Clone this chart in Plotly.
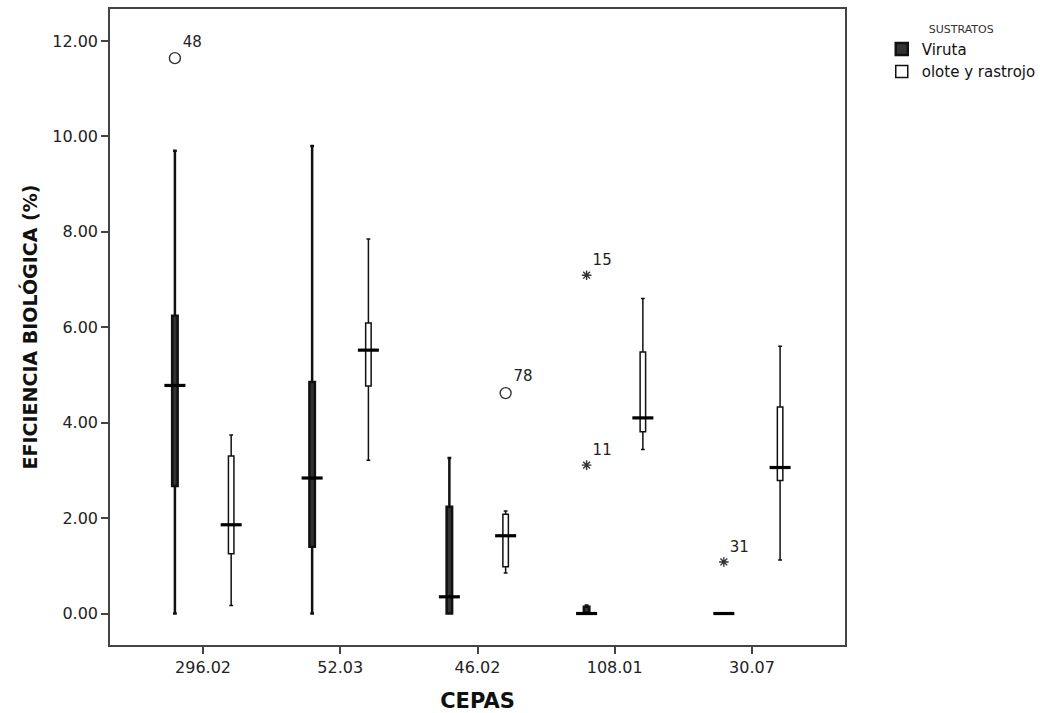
import plotly.graph_objects as go

# ---- data ----
cepas = ["296.02", "52.03", "46.02", "108.01", "30.07"]
sustratos = ["Viruta", "olote y rastrojo"]

viruta_lowerfence = [0.00, 0.00, 0.00, 0.00, 0.00]
viruta_q1 = [2.67, 1.40, 0.00, 0.00, 0.00]
viruta_median = [4.78, 2.84, 0.35, 0.00, 0.00]
viruta_q3 = [6.24, 4.85, 2.24, 0.14, 0.00]
viruta_upperfence = [9.70, 9.80, 3.26, 0.17, 0.00]

olote_lowerfence = [0.17, 3.21, 0.85, 3.44, 1.12]
olote_q1 = [1.25, 4.77, 0.98, 3.81, 2.79]
olote_median = [1.86, 5.52, 1.63, 4.10, 3.06]
olote_q3 = [3.30, 6.09, 2.08, 5.48, 4.33]
olote_upperfence = [3.74, 7.85, 2.15, 6.60, 5.60]

# outliers: cepa, sustrato, value, case label, kind
out_cepa = ["296.02", "46.02", "108.01", "108.01", "30.07"]
out_sustrato = ["Viruta", "olote y rastrojo", "Viruta", "Viruta", "Viruta"]
out_value = [11.64, 4.62, 7.09, 3.11, 1.08]
out_label = ["48", "78", "15", "11", "31"]
out_kind = ["circle", "circle", "star", "star", "star"]

# ---- layout helpers ----
offset = {"Viruta": -0.205, "olote y rastrojo": 0.205}
cidx = {c: i for i, c in enumerate(cepas)}
FONT = "DejaVu Sans"

def xpos(s):
    return [i + offset[s] for i in range(len(cepas))]

fig = go.Figure()

series = [
    ("Viruta", viruta_lowerfence, viruta_q1, viruta_median, viruta_q3, viruta_upperfence, "#333333", 2.5),
    ("olote y rastrojo", olote_lowerfence, olote_q1, olote_median, olote_q3, olote_upperfence, "#ffffff", 1.5),
]
for name, lf, q1, med, q3, uf, fill, lw in series:
    fig.add_trace(go.Box(
        name=name, x=xpos(name), q1=q1, median=med, q3=q3,
        lowerfence=lf, upperfence=uf, width=0.04,
        fillcolor=fill, line=dict(color="#111111", width=lw),
        whiskerwidth=0.7, boxpoints=False, showlegend=True,
    ))
for name, lf, q1, med, q3, uf, fill, lw in series:
    fig.add_trace(go.Scatter(
        x=xpos(name), y=med, mode="markers", showlegend=False, hoverinfo="skip",
        marker=dict(symbol="line-ew", size=15, color="#000000",
                    line=dict(color="#000000", width=3.2)),
    ))

ox = [cidx[c] + offset[s] for c, s in zip(out_cepa, out_sustrato)]
for kind, sym, size in [("circle", "circle-open", 11), ("star", "asterisk-open", 8)]:
    sel = [k for k, t in enumerate(out_kind) if t == kind]
    fig.add_trace(go.Scatter(
        x=[ox[k] for k in sel], y=[out_value[k] for k in sel],
        text=[out_label[k] for k in sel], mode="markers+text",
        textposition="top right", showlegend=False,
        textfont=dict(family=FONT, size=15, color="#222222"),
        marker=dict(symbol=sym, size=size, color="#333333",
                    line=dict(color="#333333", width=1.4)),
    ))

fig.update_layout(
    width=1063, height=713,
    margin=dict(l=110, r=218, t=9, b=68, autoexpand=False),
    paper_bgcolor="white", plot_bgcolor="white",
    font=dict(family=FONT, color="#222222"),
    showlegend=True,
    legend=dict(
        x=1.05, y=0.985, xanchor="left", yanchor="top",
        title=dict(text="SUSTRATOS", side="top center",
                   font=dict(family=FONT, size=11, color="#333333")),
        font=dict(family=FONT, size=15, color="#111111"),
        tracegroupgap=0, itemwidth=30, bgcolor="rgba(0,0,0,0)",
    ),
)
fig.update_xaxes(
    range=[-0.678, 4.678], tickmode="array",
    tickvals=list(range(len(cepas))), ticktext=cepas,
    showgrid=False, zeroline=False,
    showline=True, mirror=True, linecolor="#444444", linewidth=1.5,
    ticks="outside", ticklen=7, tickwidth=1.5, tickcolor="#444444",
    tickfont=dict(family=FONT, size=16, color="#222222"),
    title=dict(text="<b>CEPAS</b>", standoff=20,
               font=dict(family=FONT, size=21, color="#111111")),
    automargin=False,
)
fig.update_yaxes(
    range=[-0.66, 12.67], tickmode="array",
    tickvals=[0, 2, 4, 6, 8, 10, 12], tickformat=".2f",
    showgrid=False, zeroline=False,
    showline=True, mirror=True, linecolor="#444444", linewidth=1.5,
    ticks="outside", ticklen=7, tickwidth=1.5, tickcolor="#444444",
    tickfont=dict(family=FONT, size=16, color="#222222"),
    title=dict(text="<b>EFICIENCIA BIOLÓGICA (%)</b>", standoff=10,
               font=dict(family=FONT, size=19, color="#111111")),
    automargin=False,
)

fig.write_html("out.html")
